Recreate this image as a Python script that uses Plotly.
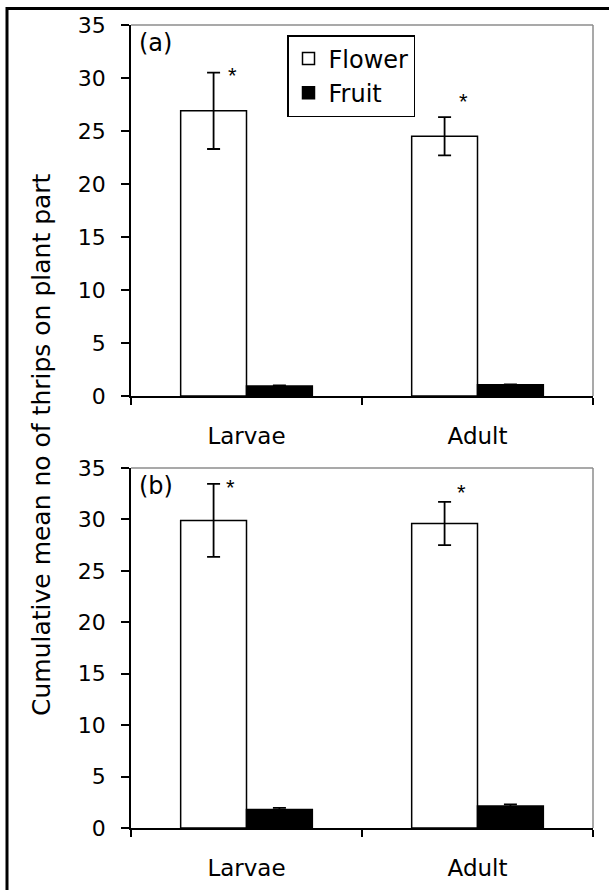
import plotly.graph_objects as go

categories = ["Larvae", "Adult"]

flower_a = [26.9, 24.5]
flower_a_err = [3.6, 1.8]
fruit_a = [0.95, 1.05]
fruit_a_err = [0.05, 0.05]

flower_b = [29.9, 29.6]
flower_b_err = [3.55, 2.1]
fruit_b = [1.8, 2.15]
fruit_b_err = [0.15, 0.15]

star_a = [30.6, 28.2]
star_b = [33.5, 33.0]

y_ticks = [0, 5, 10, 15, 20, 25, 30, 35]
panel_labels = ["(a)", "(b)"]
y_title = "Cumulative mean no of thrips on plant part"

FONT = "DejaVu Sans, Liberation Sans, Arial, sans-serif"
fig = go.Figure()

panels = [
    ("x", "y", flower_a, flower_a_err, fruit_a, fruit_a_err, True),
    ("x2", "y2", flower_b, flower_b_err, fruit_b, fruit_b_err, False),
]
for xa, ya, fl, fle, fr, fre, show in panels:
    fig.add_trace(go.Bar(
        x=categories, y=fl, name="Flower", xaxis=xa, yaxis=ya,
        marker=dict(color="white", line=dict(color="black", width=1.5)),
        error_y=dict(type="data", array=fle, color="black", thickness=1.8, width=6.5),
        showlegend=show,
    ))
    fig.add_trace(go.Bar(
        x=categories, y=fr, name="Fruit", xaxis=xa, yaxis=ya,
        marker=dict(color="black", line=dict(color="black", width=1.5)),
        error_y=dict(type="data", array=fre, color="black", thickness=1.8, width=6.5),
        showlegend=show,
    ))

xdom = [131 / 609, 593 / 609]
ydom_a = [1 - 396 / 890, 1 - 25 / 890]
ydom_b = [1 - 828 / 890, 1 - 468 / 890]

xcommon = dict(
    type="category", showline=True, linecolor="black", linewidth=1.5,
    ticks="outside", tickson="boundaries", ticklen=7, tickcolor="black", tickwidth=1.5,
    showgrid=False, tickfont=dict(family=FONT, size=23, color="black"),
    ticklabelstandoff=19, automargin=False,
)
ycommon = dict(
    range=[0, 35], tickvals=y_ticks, showline=True, linecolor="black", linewidth=1.5,
    ticks="outside", ticklen=8, tickcolor="black", tickwidth=1.5,
    showgrid=False, zeroline=False,
    tickfont=dict(family=FONT, size=22, color="black"),
    ticklabelstandoff=11, automargin=False,
)

fig.update_layout(
    width=609, height=890,
    margin=dict(l=0, r=0, t=0, b=0, autoexpand=False),
    paper_bgcolor="white", plot_bgcolor="white",
    barmode="group", bargap=0.43, bargroupgap=0,
    xaxis=dict(domain=xdom, anchor="y", **xcommon),
    yaxis=dict(domain=ydom_a, anchor="x", **ycommon),
    xaxis2=dict(domain=xdom, anchor="y2", **xcommon),
    yaxis2=dict(domain=ydom_b, anchor="x2", **ycommon),
    legend=dict(
        x=287 / 609, y=1 - 35 / 890, xanchor="left", yanchor="top",
        bordercolor="black", borderwidth=1.5, bgcolor="white",
        font=dict(family=FONT, size=24, color="black"),
        itemwidth=30, tracegroupgap=4,
    ),
    showlegend=True,
)

# plot frame (grey top/right edges)
for xr, yr in [("x domain", "y domain"), ("x2 domain", "y2 domain")]:
    fig.add_shape(type="line", xref=xr, yref=yr, x0=0, x1=1, y0=1, y1=1,
                  line=dict(color="#8c8c8c", width=1.5))
    fig.add_shape(type="line", xref=xr, yref=yr, x0=1, x1=1, y0=0, y1=1,
                  line=dict(color="#8c8c8c", width=1.5))

# outer border of the figure (left and top edges inside the image)
fig.add_shape(type="rect", xref="paper", yref="paper",
              x0=7 / 609, x1=1.05, y0=-0.05, y1=1 - 8.5 / 890,
              line=dict(color="black", width=3), fillcolor="rgba(0,0,0,0)",
              layer="above")

# panel labels
for lab, xr, yr in [(panel_labels[0], "x domain", "y domain"), (panel_labels[1], "x2 domain", "y2 domain")]:
    fig.add_annotation(text=lab, xref=xr, yref=yr, x=0.012, y=0.995,
                       xanchor="left", yanchor="top", showarrow=False,
                       font=dict(family=FONT, size=24, color="black"))

# significance stars
for cat, sy in zip(categories, star_a):
    fig.add_annotation(text="*", x=cat, y=sy, xref="x", yref="y", xshift=-14,
                       yshift=-4, showarrow=False, xanchor="center", yanchor="middle",
                       font=dict(family="Liberation Sans, Arial, sans-serif", size=22, color="black"))
for cat, sy in zip(categories, star_b):
    fig.add_annotation(text="*", x=cat, y=sy, xref="x2", yref="y2", xshift=-16,
                       yshift=-4, showarrow=False, xanchor="center", yanchor="middle",
                       font=dict(family="Liberation Sans, Arial, sans-serif", size=22, color="black"))

# y-axis title spanning both panels
fig.add_annotation(text=y_title, xref="paper", yref="paper", x=41 / 609, y=0.5,
                   textangle=-90, showarrow=False, xanchor="center", yanchor="middle",
                   font=dict(family=FONT, size=25, color="black"))

fig.write_html(
    "out.html",
    post_script="document.body.style.margin='0';document.body.style.overflow='hidden';",
    config={"displayModeBar": False},
)
